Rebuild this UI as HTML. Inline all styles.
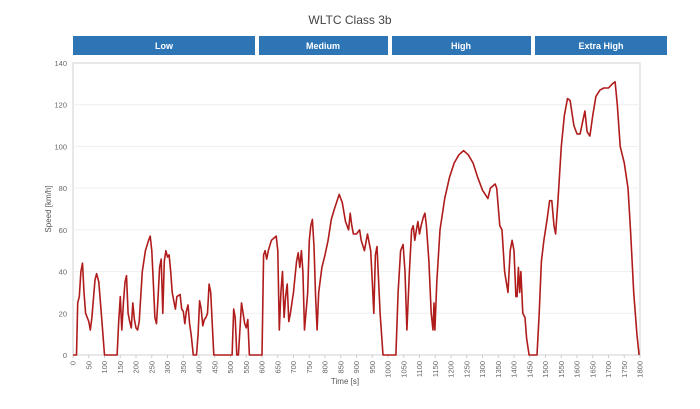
<!DOCTYPE html>
<html><head><meta charset="utf-8"><style>
body{margin:0;background:#fff;width:700px;height:404px;overflow:hidden;font-family:"Liberation Sans",sans-serif}
</style></head><body>
<svg id="s" width="700" height="404" xmlns="http://www.w3.org/2000/svg" font-family="Liberation Sans, sans-serif">
<text x="350" y="24" text-anchor="middle" font-size="12" fill="#444">WLTC Class 3b</text>
<rect x="73" y="36" width="182" height="19" fill="#2e75b6"/>
<rect x="259" y="36" width="129" height="19" fill="#2e75b6"/>
<rect x="392" y="36" width="139" height="19" fill="#2e75b6"/>
<rect x="535" y="36" width="132" height="19" fill="#2e75b6"/>
<g font-size="9" font-weight="bold" fill="#fff" text-anchor="middle">
<text x="164" y="49">Low</text><text x="323" y="49">Medium</text><text x="461" y="49">High</text><text x="601" y="49">Extra High</text></g>
<rect x="73" y="63" width="567" height="292" fill="none" stroke="#d0d0d0" stroke-width="1"/>
<g id="grid"></g>
<path id="p" fill="none" stroke="#b01c1c" stroke-width="1.6" stroke-linejoin="round"/>
<text x="51" y="209" font-size="8" fill="#555" text-anchor="middle" transform="rotate(-90 51 209)">Speed [km/h]</text>
<text x="345" y="384" font-size="8" fill="#555" text-anchor="middle">Time [s]</text>
</svg>
<script>
var X=t=>73+t*567/1800, Y=v=>355-v*292/140, ns="http://www.w3.org/2000/svg", g=document.getElementById('grid');
function el(n,a,txt){var e=document.createElementNS(ns,n);for(var k in a)e.setAttribute(k,a[k]);if(txt!=null)e.textContent=txt;g.appendChild(e);}
for(var v=0;v<=140;v+=20){ if(v>0&&v<140) el('line',{x1:73,x2:640,y1:Y(v),y2:Y(v),stroke:'#efefef'});
 el('text',{x:67,y:Y(v)+3,'font-size':7.5,fill:'#666','text-anchor':'end'},v);}
for(var t=0;t<=1800;t+=50){var x=X(t);el('line',{x1:x,x2:x,y1:355,y2:358,stroke:'#ccc'});
 el('text',{x:x+2.5,y:361,'font-size':7.5,fill:'#666','text-anchor':'end',transform:'rotate(-90 '+(x+2.5)+' 361)'},t);}
var d=[0,0,11,0,15,25,20,28,25,40,30,44,35,30,40,20,50,16,55,12,60,18,70,36,75,39,82,35,90,20,95,10,100,0,140,0,145,16,150,28,155,12,160,25,165,35,170,38,175,20,180,16,185,13,190,25,195,17,200,13,205,12,210,16,220,40,230,50,240,55,245,57,250,50,255,35,260,18,265,15,270,28,275,42,280,46,285,20,290,45,295,50,300,47,305,48,310,40,315,30,320,26,325,22,330,28,340,29,345,22,350,21,355,15,360,21,365,24,370,15,375,10,382,0,392,0,397,10,402,26,407,22,412,14,417,17,422,18,427,20,432,34,437,30,447,0,505,0,510,22,515,18,520,0,525,0,530,12,535,25,540,20,545,15,550,13,555,17,560,0,600,0,605,48,610,50,615,46,620,50,630,55,645,57,650,50,655,12,660,30,665,40,670,18,675,28,680,34,685,16,690,20,695,25,700,30,705,38,710,45,715,49,720,42,725,50,730,40,735,12,745,30,750,55,755,62,760,65,765,52,770,28,775,12,780,30,790,42,800,48,810,55,820,65,830,70,845,77,855,73,865,64,875,60,880,68,885,62,890,58,900,58,910,60,915,55,925,50,935,58,945,50,950,35,955,20,960,48,965,52,975,20,984,0,1025,0,1032,30,1040,50,1048,53,1054,40,1060,12,1068,40,1075,60,1080,62,1085,55,1090,60,1095,64,1100,58,1105,62,1112,66,1117,68,1122,62,1130,45,1137,20,1143,12,1146,25,1149,12,1155,35,1165,60,1180,75,1195,85,1210,92,1225,96,1240,98,1255,96,1270,92,1285,85,1300,79,1317,75,1325,80,1340,82,1345,80,1355,62,1362,60,1370,40,1381,30,1388,50,1394,55,1400,50,1406,28,1410,28,1414,42,1418,30,1422,40,1428,20,1435,18,1440,8,1448,0,1473,0,1480,20,1487,45,1495,55,1505,65,1513,74,1520,74,1527,62,1532,58,1540,75,1550,100,1560,115,1570,123,1578,122,1590,110,1600,106,1610,106,1618,112,1625,117,1632,107,1641,105,1650,115,1660,124,1673,127,1685,128,1700,128,1712,130,1721,131,1728,120,1737,100,1750,92,1762,80,1770,60,1780,30,1790,10,1797,0];
var s='';for(var i=0;i<d.length;i+=2)s+=(i?'L':'M')+X(d[i]).toFixed(1)+' '+Y(d[i+1]).toFixed(1);
document.getElementById('p').setAttribute('d',s);
</script>
</body></html>
